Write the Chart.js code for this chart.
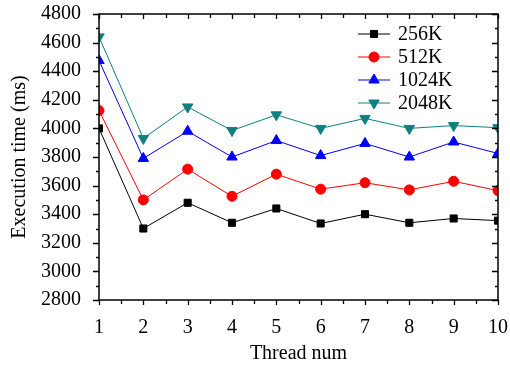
<!DOCTYPE html>
<html>
<head>
<meta charset="utf-8">
<script src="https://cdn.jsdelivr.net/npm/chart.js@4.4.1/dist/chart.umd.min.js"></script>
<style>
  html, body { margin: 0; padding: 0; background: #fff; }
  #wrap { width: 510px; height: 366px; }
</style>
</head>
<body>
<div id="wrap"><canvas id="GraficaTiempo" width="510" height="366"></canvas></div>
<script>
// datos
var threads = [1, 2, 3, 4, 5, 6, 7, 8, 9, 10];
var t256  = [4000, 3300, 3480, 3340, 3440, 3335, 3400, 3340, 3370, 3355];
var t512  = [4125, 3500, 3715, 3525, 3680, 3575, 3620, 3570, 3630, 3565];
var t1024 = [4475, 3790, 3980, 3800, 3915, 3810, 3895, 3800, 3905, 3825];
var t2048 = [4640, 3930, 4150, 3985, 4095, 4000, 4070, 4000, 4020, 4005];
var yTicks = [2800, 3000, 3200, 3400, 3600, 3800, 4000, 4200, 4400, 4600, 4800];

var FUENTE = "'Liberation Serif', 'DejaVu Serif', serif";

function Puntos(serie){
    var out = [];
    for (var i = 0; i < threads.length; i++) {
        out.push({x: threads[i], y: serie[i]});
    }
    return out;
}

function Serie(label, color, estilo, radio, rot, valores){
    return {
        label: label,
        data: Puntos(valores),
        borderColor: color,
        backgroundColor: color,
        borderWidth: 1,
        pointStyle: estilo,
        pointRadius: radio,
        pointRotation: rot,
        pointBorderWidth: 1,
        pointBorderColor: color,
        pointBackgroundColor: color,
        tension: 0
    };
}

// marco con ticks en los cuatro lados + leyenda
var marco = {
    id: 'marco',
    beforeDraw: function (chart) {
        var c = chart.ctx;
        c.save();
        c.fillStyle = '#fff';
        c.fillRect(0, 0, chart.width, chart.height);
        c.restore();
    },
    afterDraw: function (chart) {
        var c = chart.ctx, a = chart.chartArea;
        var xs = chart.scales.x, ys = chart.scales.y;
        c.save();
        c.strokeStyle = '#000';
        c.lineWidth = 1.5;
        c.strokeRect(a.left, a.top, a.right - a.left, a.bottom - a.top);
        c.lineWidth = 1.3;
        c.beginPath();
        for (var v = 1; v <= 10; v += 0.5) {
            var px = Math.round(xs.getPixelForValue(v)) + 0.5;
            var largo = (v % 1 === 0) ? 5 : 4;
            c.moveTo(px, a.bottom); c.lineTo(px, a.bottom + largo);
            c.moveTo(px, a.top); c.lineTo(px, a.top + largo);
        }
        for (var w = 2800; w <= 4800; w += 100) {
            var py = Math.round(ys.getPixelForValue(w)) + 0.5;
            var l2 = (w % 200 === 0) ? 6 : 3;
            c.moveTo(a.left, py); c.lineTo(a.left - l2, py);
            c.moveTo(a.right, py); c.lineTo(a.right - l2, py);
        }
        c.stroke();

        var x0 = 358, y0 = 34, paso = 23;
        chart.data.datasets.forEach(function (ds, i) {
            var y = y0 + i * paso;
            c.strokeStyle = ds.borderColor;
            c.fillStyle = ds.backgroundColor;
            c.lineWidth = 1;
            c.beginPath();
            c.moveTo(x0, y); c.lineTo(x0 + 32, y);
            c.stroke();
            Chart.helpers.drawPoint(c, {
                pointStyle: ds.pointStyle,
                rotation: ds.pointRotation,
                radius: ds.pointRadius,
                borderWidth: 1
            }, x0 + 16, y);
            c.fillStyle = '#000';
            c.font = '20px ' + FUENTE;
            c.textBaseline = 'middle';
            c.textAlign = 'left';
            c.fillText(ds.label, x0 + 40, y + 1);
        });
        c.restore();
    }
};

var ctx = document.getElementById('GraficaTiempo');
var grafica = new Chart(ctx, {
    type: 'line',
    data: {
        datasets: [
            Serie('256K', '#000000', 'rect', 5, 0, t256),
            Serie('512K', '#ff0000', 'circle', 5, 0, t512),
            Serie('1024K', '#0000ff', 'triangle', 6, 0, t1024),
            Serie('2048K', '#0f8080', 'triangle', 6, 180, t2048)
        ]
    },
    options: {
        responsive: false,
        animation: false,
        layout: { padding: { top: 14, right: 12, left: 0, bottom: 0 } },
        plugins: {
            legend: { display: false },
            tooltip: { enabled: false }
        },
        scales: {
            x: {
                type: 'linear',
                min: 1,
                max: 10,
                grid: { display: false },
                border: { display: false },
                ticks: {
                    stepSize: 1,
                    color: '#000',
                    padding: 8,
                    font: { family: FUENTE, size: 20 }
                },
                title: {
                    display: true,
                    text: 'Thread num',
                    color: '#000',
                    padding: { top: 4, bottom: 0 },
                    font: { family: FUENTE, size: 20 }
                },
                afterFit: function (s) {
                    s.height = 66;
                    s.paddingLeft = 0;
                    s.paddingRight = 0;
                }
            },
            y: {
                min: 2800,
                max: 4800,
                grid: { display: false },
                border: { display: false },
                afterBuildTicks: function (s) {
                    s.ticks = yTicks.map(function (v) { return {value: v}; });
                },
                ticks: {
                    color: '#000',
                    padding: 10,
                    font: { family: FUENTE, size: 20 },
                    callback: function (v) { return String(v); }
                },
                title: {
                    display: true,
                    text: 'Execution time (ms)',
                    color: '#000',
                    padding: { top: 8, bottom: 0 },
                    font: { family: FUENTE, size: 20 }
                },
                afterFit: function (s) {
                    s.width = 99;
                    s.paddingTop = 0;
                    s.paddingBottom = 0;
                }
            }
        }
    },
    plugins: [marco]
});
</script>
</body>
</html>
